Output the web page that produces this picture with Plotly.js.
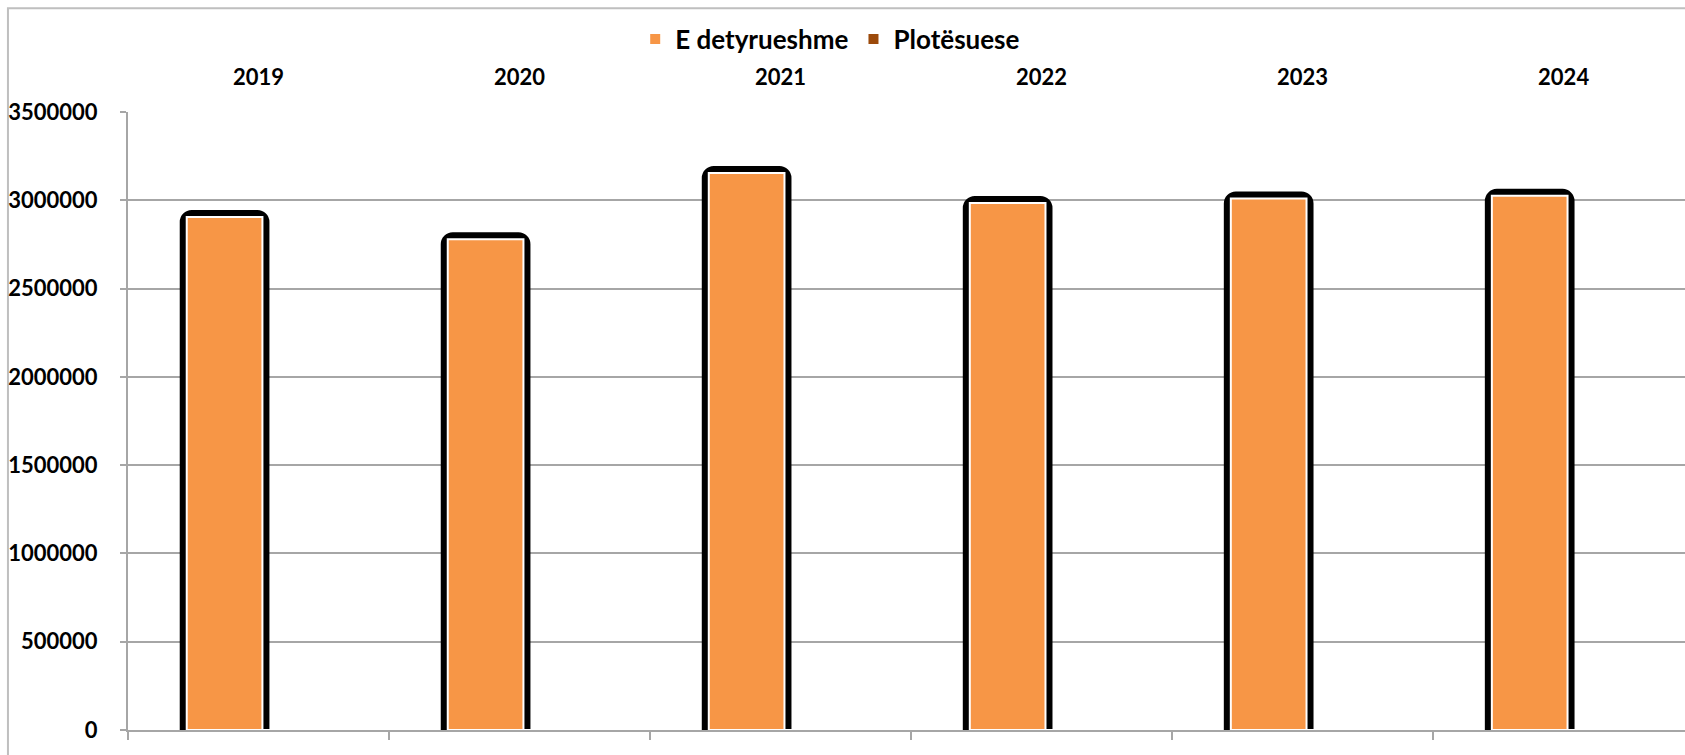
<!DOCTYPE html>
<html>
<head>
<meta charset="utf-8">
<script src="https://cdn.plot.ly/plotly-3.0.1.min.js"></script>
<style>html,body{margin:0;padding:0;background:#fff;}#chart{width:1685px;height:755px;}</style>
</head>
<body>
<div id="chart"></div>
<script>
const years = ['2019', '2020', '2021', '2022', '2023', '2024'];
const eDetyrueshme = [2905000, 2780000, 3155000, 2985000, 3010000, 3025000];
const plotesuese = [0, 0, 0, 0, 0, 0];
const yTicks = [0, 500000, 1000000, 1500000, 2000000, 2500000, 3000000, 3500000];
const seriesNames = ['E detyrueshme', 'Plotësuese'];

const font = {family: 'Lato, "Open Sans", sans-serif', size: 22, color: '#000', weight: 'bold'};
const barWidth = 0.29;

const traces = [
  { // dark outline behind bars
    type: 'bar', x: years, y: eDetyrueshme, xaxis: 'x', yaxis: 'y',
    width: barWidth, offset: -0.275,
    marker: {color: '#000', line: {color: '#000', width: 14}, cornerradius: 5},
    showlegend: false, hoverinfo: 'skip'
  },
  {
    type: 'bar', name: seriesNames[0], x: years, y: eDetyrueshme, xaxis: 'x', yaxis: 'y',
    width: barWidth, offset: -0.275,
    marker: {color: '#F79646', line: {color: '#FFFFFF', width: 2}}
  },
  {
    type: 'bar', name: seriesNames[1], x: years, y: plotesuese, xaxis: 'x', yaxis: 'y',
    width: barWidth, offset: 0.015,
    marker: {color: '#9C4A0B', line: {color: '#FFFFFF', width: 2}}
  },
  { // carries the top category labels
    type: 'scatter', mode: 'markers', x: years, y: years.map(() => null),
    xaxis: 'x2', yaxis: 'y', showlegend: false, hoverinfo: 'skip'
  }
];

const xRange = [-0.5, 5.465];
const layout = {
  width: 1685, height: 755,
  margin: {l: 128, r: 0, t: 112, b: 25},
  paper_bgcolor: '#fff', plot_bgcolor: '#fff',
  barmode: 'overlay',
  font: font,
  showlegend: true,
  legend: {
    orientation: 'h', x: 0.451, xanchor: 'center', y: 1.118, yanchor: 'middle',
    font: {family: font.family, size: 26, color: '#000', weight: 'bold'},
    itemwidth: 30, tracegroupgap: 0, traceorder: 'normal'
  },
  xaxis: {
    type: 'category', categoryorder: 'array', categoryarray: years,
    range: xRange, side: 'bottom', showticklabels: false,
    tickson: 'boundaries', ticks: 'outside', ticklen: 8, tickwidth: 2, tickcolor: '#a6a6a6',
    showline: true, linecolor: '#a6a6a6', linewidth: 2, showgrid: false, zeroline: false,
    fixedrange: true
  },
  xaxis2: {
    type: 'category', categoryorder: 'array', categoryarray: years,
    overlaying: 'x', side: 'top', range: xRange,
    ticks: '', showline: false, showgrid: false, zeroline: false,
    tickfont: font, ticklabelstandoff: 22, fixedrange: true
  },
  yaxis: {
    range: [0, 3500000], tickmode: 'array', tickvals: yTicks,
    ticktext: yTicks.map(v => String(v)),
    showgrid: true, gridcolor: '#a6a6a6', gridwidth: 2,
    showline: true, linecolor: '#a6a6a6', linewidth: 2,
    ticks: 'outside', ticklen: 6, tickwidth: 2, tickcolor: '#a6a6a6',
    ticklabelstandoff: 18, zeroline: false, tickfont: font, fixedrange: true
  },
  shapes: [{
    type: 'rect', xref: 'paper', yref: 'paper',
    x0: -0.0771, x1: 1.2, y0: -0.3, y1: 1.168,
    line: {color: '#bfbfbf', width: 2}, fillcolor: 'rgba(0,0,0,0)', layer: 'below'
  }]
};

Plotly.newPlot('chart', traces, layout, {displayModeBar: false, staticPlot: true});
</script>
</body>
</html>
